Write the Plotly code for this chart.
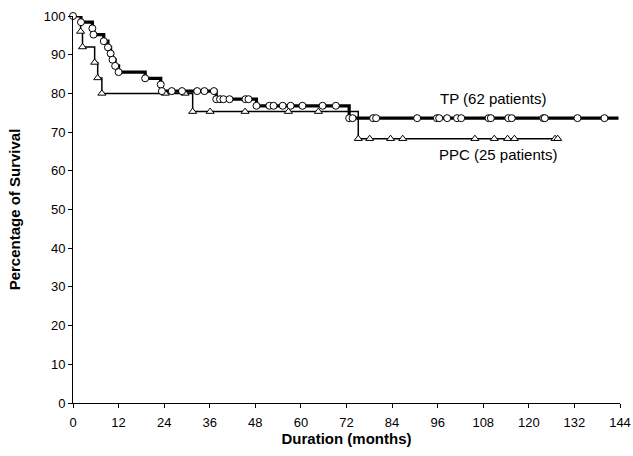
import plotly.graph_objects as go

# ---- data ----
tp_time = [0, 2.1, 5.1, 5.4, 8.1, 9.2, 9.9, 10.4, 11.1, 12.0, 19.0, 23.1, 23.4, 26.0, 28.7,
           32.7, 34.6, 37.1, 37.7, 38.7, 39.6, 41.2, 45.4, 46.2, 48.3, 51.7, 52.8, 55.2,
           57.3, 60.4, 65.7, 69.2, 72.7, 73.6, 79.0, 79.8, 90.6, 95.8, 96.4, 98.5, 101.1,
           102.2, 109.4, 110.0, 114.6, 115.5, 123.8, 124.2, 132.8, 139.9]
tp_surv = [100, 98.4, 96.8, 95.2, 93.5, 91.9, 90.3, 88.7, 87.1, 85.5, 83.9, 82.3, 80.6, 80.6, 80.6,
           80.6, 80.6, 80.6, 78.5, 78.5, 78.5, 78.5, 78.5, 78.5, 76.8, 76.8, 76.8, 76.8,
           76.8, 76.8, 76.8, 76.8, 73.6, 73.6, 73.6, 73.6, 73.6, 73.6, 73.6, 73.6, 73.6,
           73.6, 73.6, 73.6, 73.6, 73.6, 73.6, 73.6, 73.6, 73.6]
tp_followup_end = 143.6

ppc_time = [0, 2.0, 2.5, 5.7, 6.5, 7.6, 24.3, 29.5, 31.5, 36.1, 45.3, 56.7, 64.6, 75.1,
            78.1, 83.6, 86.8, 105.8, 110.9, 114.4, 116.2, 126.9, 127.6]
ppc_surv = [100, 96, 92, 88, 84, 80, 80, 80, 75.3, 75.3, 75.3, 75.3, 75.3, 68.3,
            68.3, 68.3, 68.3, 68.3, 68.3, 68.3, 68.3, 68.3, 68.3]
ppc_followup_end = 128.4

x_ticks = list(range(0, 145, 12))
y_ticks = list(range(0, 101, 10))

FONT = "Arial, Liberation Sans, sans-serif"

fig = go.Figure()

# step lines
fig.add_trace(go.Scatter(x=ppc_time + [ppc_followup_end], y=ppc_surv + [ppc_surv[-1]],
                         mode="lines", line=dict(shape="hv", color="black", width=1.5),
                         showlegend=False, hoverinfo="skip"))
fig.add_trace(go.Scatter(x=tp_time + [tp_followup_end], y=tp_surv + [tp_surv[-1]],
                         mode="lines", line=dict(shape="hv", color="black", width=3.2),
                         showlegend=False, hoverinfo="skip"))
# markers
fig.add_trace(go.Scatter(x=ppc_time[1:], y=ppc_surv[1:], mode="markers",
                         marker=dict(symbol="triangle-up", size=7, color="white",
                                     line=dict(color="black", width=1)),
                         cliponaxis=False, showlegend=False))
fig.add_trace(go.Scatter(x=tp_time, y=tp_surv, mode="markers",
                         marker=dict(symbol="circle", size=7, color="white",
                                     line=dict(color="black", width=1)),
                         cliponaxis=False, showlegend=False))

fig.add_annotation(x=110.5, y=78.6, text="TP (62 patients)", showarrow=False,
                   font=dict(family=FONT, size=15, color="black"))
fig.add_annotation(x=111.8, y=64.1, text="PPC (25 patients)", showarrow=False,
                   font=dict(family=FONT, size=15, color="black"))

fig.update_layout(
    width=633, height=456,
    margin=dict(l=72.5, r=12.5, t=16, b=52.5),
    paper_bgcolor="white", plot_bgcolor="white",
    font=dict(family=FONT, size=13, color="black"),
    xaxis=dict(range=[0, 144], tickvals=x_ticks, ticktext=[str(v) for v in x_ticks],
               showgrid=False, zeroline=False, showline=True, linecolor="black", linewidth=1,
               ticks="outside", ticklen=4, tickcolor="black", ticklabelstandoff=3,
               automargin=False,
               title=dict(text="<b>Duration (months)</b>", font=dict(size=15), standoff=3)),
    yaxis=dict(range=[0, 100], tickvals=y_ticks, ticktext=[str(v) for v in y_ticks],
               showgrid=False, zeroline=False, showline=True, linecolor="black", linewidth=1,
               ticks="outside", ticklen=4, tickcolor="black", automargin=False,
               title=dict(text="<b>Percentage of Survival</b>", font=dict(size=15), standoff=19)),
)

# remove the page's default body margin so the figure fills the 633x456 window exactly
fig.write_html("out.html", config={"displayModeBar": False},
               post_script="document.body.style.margin='0';document.body.style.overflow='hidden';")
